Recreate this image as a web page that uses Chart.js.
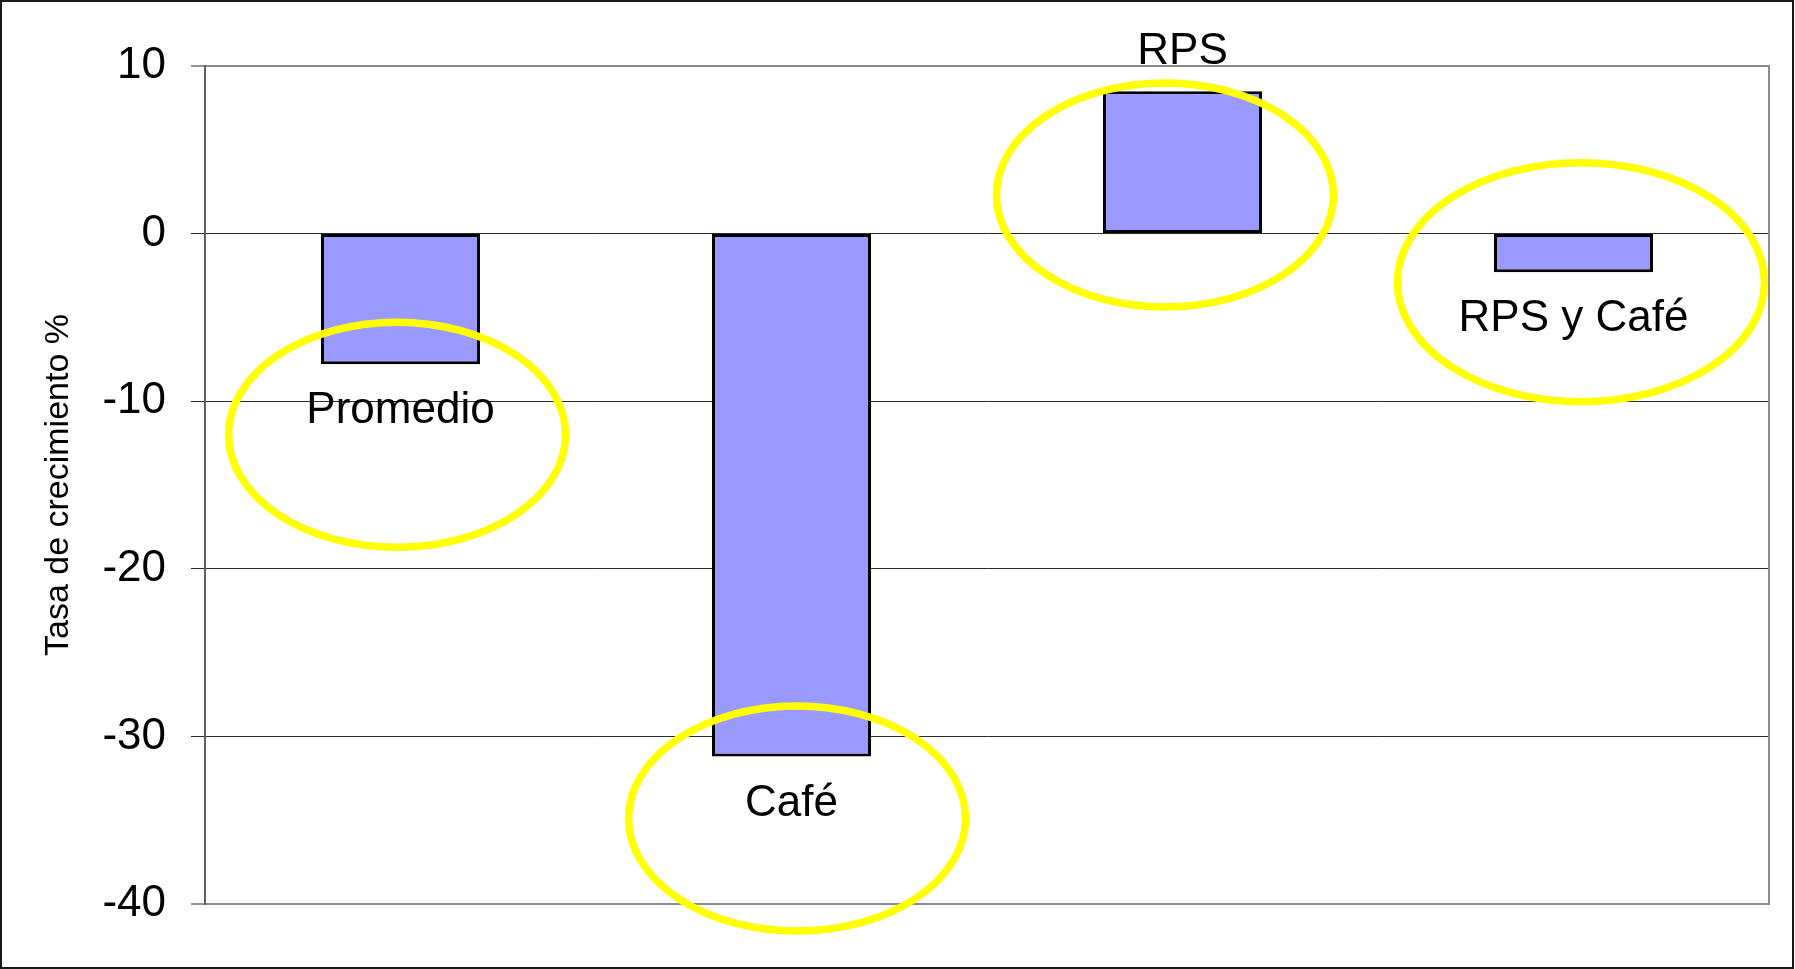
<!DOCTYPE html>
<html>
<head>
<meta charset="utf-8">
<script src="https://cdn.jsdelivr.net/npm/chart.js@4.4.1/dist/chart.umd.min.js"></script>
<style>
html, body { margin: 0; padding: 0; background: #ffffff; }
canvas { display: block; }
</style>
</head>
<body>
<canvas id="c" width="1795" height="969"></canvas>
<script>
// ---- data ----
const categories = ['Promedio', 'Café', 'RPS', 'RPS y Café'];
const growthRates = [-7.8, -31.2, 8.5, -2.3];
const yTickValues = [10, 0, -10, -20, -30, -40];
const yAxisTitle = 'Tasa de crecimiento %';

// ---- annotation (highlight ellipses) settings: offsets in category units, centre in y units ----
const ellipseSpec = [
  { dx: -0.009, y: -12.0, rx: 168.5, ry: 112.5 },
  { dx: 0.014,  y: -34.9, rx: 168.5, ry: 112.5 },
  { dx: -0.045, y: 2.3,   rx: 168.5, ry: 112.0 },
  { dx: 0.019,  y: -2.9,  rx: 183.5, ry: 119.5 }
];

const FONT = '"Liberation Sans", Arial, Helvetica, sans-serif';

const decorPlugin = {
  id: 'decor',
  beforeDatasetsDraw(chart) {
    const { ctx, chartArea: a } = chart;
    ctx.save();
    ctx.strokeStyle = '#8c8c8c';
    ctx.lineWidth = 2;
    ctx.beginPath();
    ctx.moveTo(a.right, a.top - 1);
    ctx.lineTo(a.right, a.bottom + 1);
    ctx.stroke();
    ctx.restore();
  },
  afterDatasetsDraw(chart) {
    const { ctx } = chart;
    const meta = chart.getDatasetMeta(0);
    const xs = chart.scales.x, ys = chart.scales.y;
    ctx.save();
    // category labels next to bar ends
    ctx.font = '44px ' + FONT;
    ctx.fillStyle = '#000000';
    ctx.textAlign = 'center';
    ctx.textBaseline = 'alphabetic';
    meta.data.forEach((bar, i) => {
      const v = growthRates[i];
      const yy = v < 0 ? bar.y + 59 : bar.y - 27;
      ctx.fillText(categories[i], bar.x, yy);
    });
    // highlight ellipses
    ctx.strokeStyle = '#FFFF00';
    ctx.lineWidth = 7.5;
    ellipseSpec.forEach((e, i) => {
      const cx = xs.getPixelForValue(i) + e.dx * (xs.getPixelForValue(1) - xs.getPixelForValue(0));
      const cy = ys.getPixelForValue(e.y);
      ctx.beginPath();
      ctx.ellipse(cx, cy, e.rx, e.ry, 0, 0, Math.PI * 2);
      ctx.stroke();
    });
    ctx.restore();
  },
  afterDraw(chart) {
    const { ctx, width, height } = chart;
    ctx.save();
    ctx.strokeStyle = '#1a1a1a';
    ctx.lineWidth = 2;
    ctx.strokeRect(1, 1, width - 3, height - 2);
    ctx.restore();
  }
};

new Chart(document.getElementById('c'), {
  type: 'bar',
  data: {
    labels: categories,
    datasets: [{
      data: growthRates,
      backgroundColor: '#9999FF',
      borderColor: '#000000',
      borderWidth: 3,
      borderSkipped: false,
      inflateAmount: 0,
      categoryPercentage: 1.0,
      barPercentage: 159 / 391
    }]
  },
  options: {
    responsive: false,
    devicePixelRatio: 1,
    animation: false,
    layout: { padding: { left: 0, top: 66, right: 26, bottom: 65 } },
    plugins: { legend: { display: false }, tooltip: { enabled: false } },
    scales: {
      x: {
        type: 'category',
        display: false,
        offset: true
      },
      y: {
        min: -40,
        max: 10,
        afterBuildTicks: (s) => { s.ticks = yTickValues.map(v => ({ value: v })); },
        afterFit: (s) => { s.width = 205; },
        ticks: {
          font: { family: FONT, size: 44 },
          color: '#000000',
          padding: 25
        },
        grid: {
          color: (c) => (c.tick && (c.tick.value === 10 || c.tick.value === -40)) ? '#8c8c8c' : '#2a2a2a',
          lineWidth: (c) => (c.tick && (c.tick.value === 10 || c.tick.value === -40)) ? 2 : 1,
          tickLength: 14,
          tickColor: '#2a2a2a',
          tickWidth: 1
        },
        border: { color: '#606060', width: 2 },
        title: {
          display: true,
          text: yAxisTitle,
          font: { family: FONT, size: 34 },
          color: '#000000',
          padding: { top: 38, bottom: 0 }
        }
      }
    }
  },
  plugins: [decorPlugin]
});
</script>
</body>
</html>
